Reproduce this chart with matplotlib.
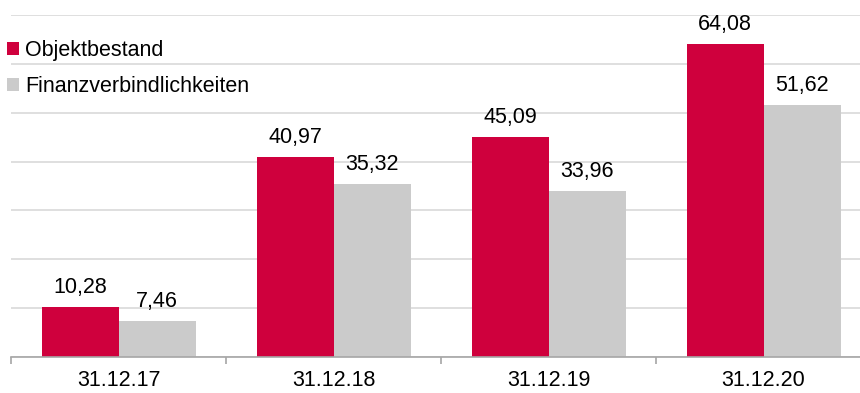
import matplotlib
matplotlib.use("Agg")
import matplotlib.pyplot as plt
from matplotlib.patches import Patch
import numpy as np

plt.rcParams['font.family'] = ['Liberation Sans', 'DejaVu Sans']

categories = ["31.12.17", "31.12.18", "31.12.19", "31.12.20"]
objektbestand = [10.28, 40.97, 45.09, 64.08]
finanz = [7.46, 35.32, 33.96, 51.62]
labels_series = ["Objektbestand", "Finanzverbindlichkeiten"]

RED = "#CF003D"
GRAY = "#CBCBCB"
W, H = 860, 393
fig = plt.figure(figsize=(W/100, H/100), dpi=100)
left, right, bottom, top = 11, 860, 357, 15
ax = fig.add_axes([left/W, (H-bottom)/H, (right-left)/W, (bottom-top)/H])

x = np.arange(len(categories))
bw = 77/215
b1 = ax.bar(x - bw/2, objektbestand, bw, color=RED, zorder=3)
b2 = ax.bar(x + bw/2, finanz, bw, color=GRAY, zorder=3)
fs = 15.5
for bars, vals in ((b1, objektbestand), (b2, finanz)):
    for r, v in zip(bars, vals):
        ax.annotate(f"{v:.2f}".replace(".", ","), (r.get_x() + r.get_width()/2, v),
                    xytext=(0, 6.5), textcoords="offset points", ha="center", va="bottom",
                    fontsize=fs, color="black")

ax.set_yticks(np.arange(0, 71, 10))
ax.yaxis.grid(True, color="#D9D9D9", linewidth=1.2, zorder=0)
ax.set_axisbelow(True)
ax.tick_params(axis="y", left=False, labelleft=False)
for s in ("top", "right", "left"):
    ax.spines[s].set_visible(False)
ax.spines["bottom"].set_color("#A6A6A6")
ax.spines["bottom"].set_linewidth(1.2)
ax.spines["bottom"].set_zorder(4)
ax.set_xticks(x)
ax.set_xticklabels(categories, fontsize=fs)
ax.tick_params(axis="x", length=0, pad=9.5)
ax.set_xticks(np.arange(-0.5, 4.0, 1.0), minor=True)
ax.tick_params(axis="x", which="minor", length=5, color="#A6A6A6", width=1.2)
ax.set_xlim(-0.5, -0.5 + (right-left)/215)
ax.set_ylim(0, 70)

handles = [Patch(facecolor=RED, label=labels_series[0]), Patch(facecolor=GRAY, label=labels_series[1])]
fig.legend(handles=handles, loc="upper left", bbox_to_anchor=(7/W, (H-40)/H), frameon=False,
           fontsize=fs, handlelength=0.55, handleheight=0.55, handletextpad=0.3,
           labelspacing=0.72, borderaxespad=0, borderpad=0)

fig.savefig("out.png", dpi=100)
